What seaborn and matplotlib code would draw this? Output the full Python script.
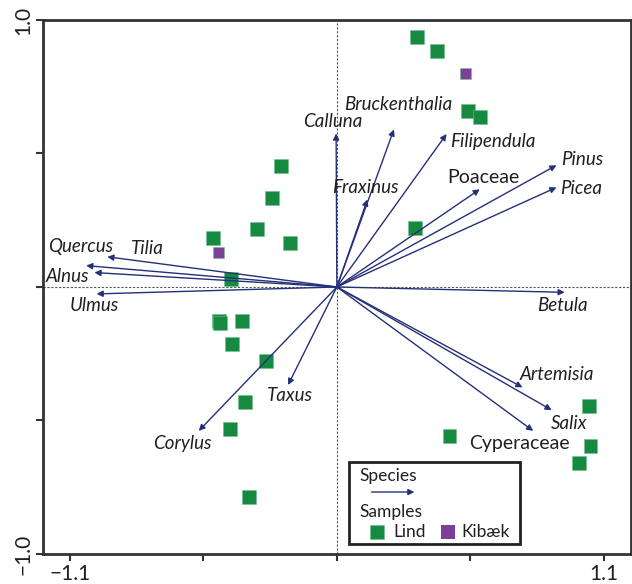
import matplotlib
matplotlib.use("Agg")
import matplotlib.pyplot as plt
import seaborn as sns
import pandas as pd
from matplotlib.patches import Rectangle

# Sample scores (axis 1, axis 2) and site group
sample_x = [0.330, 0.412, 0.540, 0.589, -0.231, -0.268, -0.330, -0.511, -0.194,
            -0.437, 0.321, -0.486, -0.482, -0.391, -0.433, -0.293, -0.379, -0.441,
            -0.363, 0.464, 1.038, 1.045, 0.996, 0.531, -0.486]
sample_y = [0.936, 0.884, 0.659, 0.637, 0.453, 0.333, 0.217, 0.184, 0.165,
            0.030, 0.221, -0.127, -0.135, -0.129, -0.215, -0.277, -0.431, -0.531,
            -0.786, -0.558, -0.446, -0.597, -0.659, 0.801, 0.128]
sample_site = ["Lind"] * 23 + ["Kibæk"] * 2

# Species scores (arrow tips)
species = ["Calluna", "Bruckenthalia", "Fraxinus", "Filipendula", "Poaceae",
           "Pinus", "Picea", "Betula", "Artemisia", "Salix", "Cyperaceae",
           "Taxus", "Corylus", "Quercus", "Tilia", "Alnus", "Ulmus"]
species_x = [-0.003, 0.235, 0.126, 0.452, 0.589, 0.905, 0.905, 0.939, 0.765,
             0.885, 0.809, -0.201, -0.569, -0.946, -1.033, -0.999, -0.990]
species_y = [0.575, 0.590, 0.328, 0.573, 0.366, 0.456, 0.373, -0.020, -0.376,
             -0.461, -0.539, -0.367, -0.539, 0.113, 0.080, 0.054, -0.026]
# Families are set upright, genera in italics
species_italic = [True, True, True, True, False, True, True, True, True, True,
                  False, True, True, True, True, True, True]
# Label placement relative to arrow tip (pixels)
label_offset = [(-3, 12), (4, 25), (-2, 12), (46, -8), (4, 12), (26, 6),
                (25, -1), (-2, -13), (34, 13), (18, -13), (-14, -13), (2, -11),
                (-16, -13), (-27, 10), (61, 17), (-27, -4), (-2, -12)]

x_ticks = [-1.1, -0.55, 0.0, 0.55, 1.1]
x_ticklabels = ["\u22121.1", "", "", "", "1.1"]
y_ticks = [-1.0, -0.5, 0.0, 0.5, 1.0]
y_ticklabels = ["\u22121.0", "", "", "", "1.0"]

GREEN = "#178a42"
PURPLE = "#7e3f98"
NAVY = "#25307a"
INK = "#231f20"

sns.set_style("white")
plt.rcParams["font.family"] = ["Lato", "DejaVu Sans"]

fig = plt.figure(figsize=(6.32, 5.84), dpi=100)
ax = fig.add_axes([0.068, 0.0514, 0.930, 0.9144])

df = pd.DataFrame({"ax1": sample_x, "ax2": sample_y, "site": sample_site})
sns.scatterplot(data=df, x="ax1", y="ax2", hue="site", size="site",
                palette={"Lind": GREEN, "Kibæk": PURPLE},
                sizes={"Lind": 100, "Kibæk": 62}, marker="s",
                edgecolor="#6fbf8a", linewidth=0.4, legend=False, ax=ax, zorder=3)

# Reference lines through the origin
ax.axhline(0, color="#555555", lw=0.8, ls=(0, (2, 1.5)), zorder=1)
ax.axvline(0, color="#555555", lw=0.8, ls=(0, (2, 1.5)), zorder=1)

# Species arrows and labels
for name, sx, sy, it, off in zip(species, species_x, species_y, species_italic, label_offset):
    ax.annotate("", xy=(sx, sy), xytext=(0, 0),
                arrowprops=dict(arrowstyle="-|>", color=NAVY, lw=1.0,
                                mutation_scale=9, shrinkA=0, shrinkB=0),
                zorder=4)
    ax.annotate(name, xy=(sx, sy), xytext=off, textcoords="offset pixels",
                ha="center", va="center", fontsize=13.5 if it else 14, color=INK,
                style="italic" if it else "normal", zorder=5)

ax.set_xlim(-1.211, 1.211)
ax.set_ylim(-1.0, 1.0)
ax.set_xticks(x_ticks)
ax.set_xticklabels(x_ticklabels, fontsize=15, color=INK)
ax.set_yticks(y_ticks)
ax.set_yticklabels(y_ticklabels, fontsize=15, color=INK, rotation=90, va="center")
ax.tick_params(axis="both", direction="out", length=5, width=1.5, color="#333333",
               pad=2, bottom=True, left=True)
ax.set_xlabel("")
ax.set_ylabel("")
for sp in ax.spines.values():
    sp.set_color("#333333")
    sp.set_linewidth(2)

# Legend box
tr = ax.transAxes
ax.add_patch(Rectangle((0.521, 0.018), 0.290, 0.155, transform=tr, fill=False,
                       ec="#222222", lw=2, zorder=6))
ax.text(0.538, 0.146, "Species", transform=tr, fontsize=12.5, color=INK,
        ha="left", va="center", zorder=7)
ax.annotate("", xy=(0.632, 0.116), xytext=(0.559, 0.116), xycoords=tr, textcoords=tr,
            arrowprops=dict(arrowstyle="-|>", color=NAVY, lw=1.0,
                            mutation_scale=9, shrinkA=0, shrinkB=0), zorder=7)
ax.text(0.538, 0.079, "Samples", transform=tr, fontsize=12.5, color=INK,
        ha="left", va="center", zorder=7)
ax.scatter([0.569], [0.042], transform=tr, marker="s", s=115, color=GREEN,
           edgecolor="#6fbf8a", linewidth=0.4, zorder=7, clip_on=False)
ax.text(0.596, 0.042, "Lind", transform=tr, fontsize=12.5, color=INK,
        ha="left", va="center", zorder=7)
ax.scatter([0.689], [0.042], transform=tr, marker="s", s=90, color=PURPLE,
           linewidth=0, zorder=7, clip_on=False)
ax.text(0.712, 0.042, "Kibæk", transform=tr, fontsize=12.5, color=INK,
        ha="left", va="center", zorder=7)

fig.savefig("out.png", dpi=100)
